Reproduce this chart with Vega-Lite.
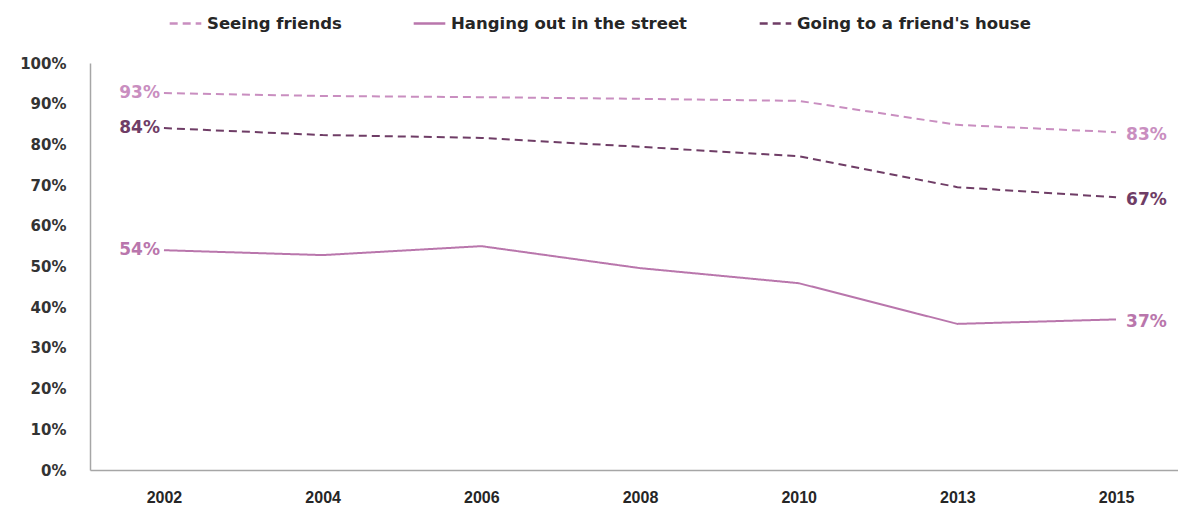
{
  "$schema": "https://vega.github.io/schema/vega-lite/v6.json",
  "autosize": {"type": "none"},
  "width": 1088,
  "height": 407,
  "padding": {"left": 90, "top": 63, "right": 0, "bottom": 36},
  "background": "white",
  "config": {"view": {"stroke": null}},
  "data": {"values": [
    {"year": "2002", "series": "Seeing friends", "value": 0.926},
    {"year": "2004", "series": "Seeing friends", "value": 0.919},
    {"year": "2006", "series": "Seeing friends", "value": 0.916},
    {"year": "2008", "series": "Seeing friends", "value": 0.912},
    {"year": "2010", "series": "Seeing friends", "value": 0.907},
    {"year": "2013", "series": "Seeing friends", "value": 0.848},
    {"year": "2015", "series": "Seeing friends", "value": 0.83},
    {"year": "2002", "series": "Hanging out in the street", "value": 0.54},
    {"year": "2004", "series": "Hanging out in the street", "value": 0.528},
    {"year": "2006", "series": "Hanging out in the street", "value": 0.55},
    {"year": "2008", "series": "Hanging out in the street", "value": 0.496},
    {"year": "2010", "series": "Hanging out in the street", "value": 0.459},
    {"year": "2013", "series": "Hanging out in the street", "value": 0.359},
    {"year": "2015", "series": "Hanging out in the street", "value": 0.37},
    {"year": "2002", "series": "Going to a friend's house", "value": 0.84},
    {"year": "2004", "series": "Going to a friend's house", "value": 0.823},
    {"year": "2006", "series": "Going to a friend's house", "value": 0.816},
    {"year": "2008", "series": "Going to a friend's house", "value": 0.794},
    {"year": "2010", "series": "Going to a friend's house", "value": 0.771},
    {"year": "2013", "series": "Going to a friend's house", "value": 0.695},
    {"year": "2015", "series": "Going to a friend's house", "value": 0.67}
  ]},
  "encoding": {
    "x": {
      "field": "year", "type": "ordinal",
      "scale": {"type": "point", "range": [0, 1100], "padding": 0.466},
      "axis": {
        "title": null, "labelAngle": 0, "ticks": false, "domainColor": "#a6a6a6", "domainWidth": 1.5,
        "labelPadding": 19, "labelFont": "Liberation Sans", "labelFontWeight": "bold",
        "labelFontSize": 16, "labelColor": "#262626"
      }
    },
    "y": {
      "field": "value", "type": "quantitative",
      "scale": {"domain": [0, 1], "nice": false},
      "axis": {
        "title": null, "format": ".0%", "values": [0, 0.1, 0.2, 0.3, 0.4, 0.5, 0.6, 0.7, 0.8, 0.9, 1],
        "grid": false, "ticks": false, "domainColor": "#a6a6a6", "domainWidth": 1.5,
        "labelPadding": 24, "labelFont": "DejaVu Sans", "labelFontWeight": "bold",
        "labelFontSize": 15, "labelColor": "#333333"
      }
    },
    "color": {
      "field": "series", "type": "nominal",
      "scale": {
        "domain": ["Seeing friends", "Hanging out in the street", "Going to a friend's house"],
        "range": ["#c98ec0", "#b976ac", "#6f3d66"]
      },
      "legend": {
        "title": null, "orient": "none", "legendX": 78, "legendY": -57, "direction": "horizontal",
        "labelFont": "DejaVu Sans", "labelFontWeight": "bold", "labelFontSize": 16.5, "labelLimit": 0,
        "labelColor": "#262626", "symbolType": "stroke", "symbolSize": 1000, "symbolStrokeWidth": 2.5,
        "columnPadding": 66, "labelOffset": 4
      }
    }
  },
  "layer": [
    {
      "mark": {"type": "line", "strokeWidth": 2},
      "encoding": {
        "strokeDash": {
          "field": "series", "type": "nominal",
          "scale": {
            "domain": ["Seeing friends", "Hanging out in the street", "Going to a friend's house"],
            "range": [[8, 5], [1, 0], [8, 5]]
          },
          "legend": null
        }
      }
    },
    {
      "transform": [{"filter": "datum.year == '2002'"}],
      "mark": {"type": "text", "align": "right", "dx": -4, "font": "DejaVu Sans", "fontWeight": "bold", "fontSize": 17},
      "encoding": {"text": {"field": "value", "type": "quantitative", "format": ".0%"}}
    },
    {
      "transform": [{"filter": "datum.year == '2015'"}],
      "mark": {"type": "text", "align": "left", "dx": 10, "dy": 3, "font": "DejaVu Sans", "fontWeight": "bold", "fontSize": 17},
      "encoding": {"text": {"field": "value", "type": "quantitative", "format": ".0%"}}
    }
  ]
}
